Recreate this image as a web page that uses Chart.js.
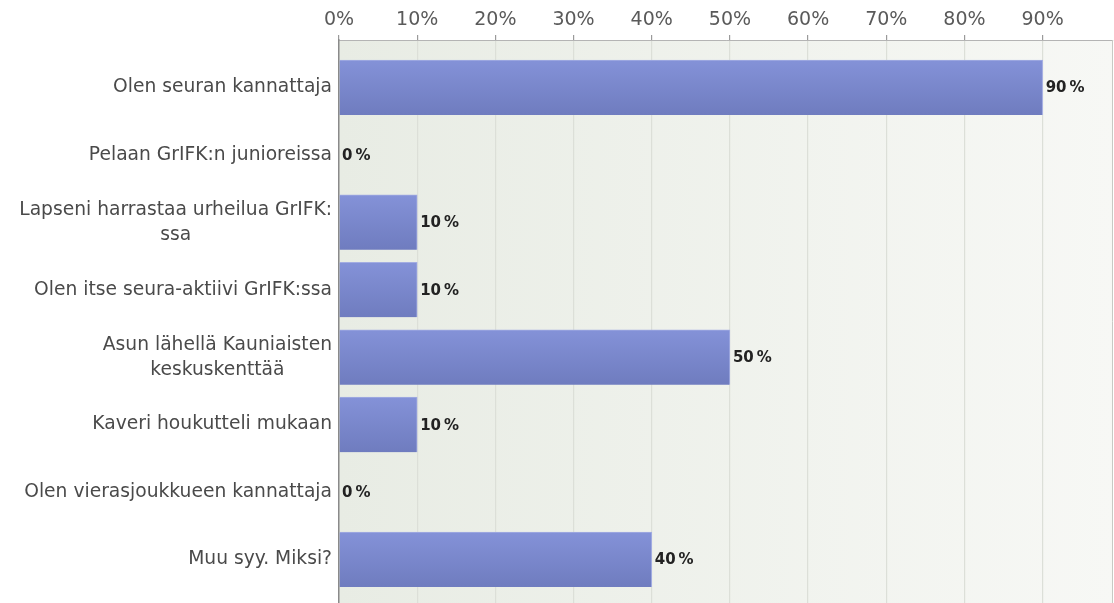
<!DOCTYPE html>
<html>
<head>
    <title>GrIFK</title>
    <style>
        body { margin: 0; background: #fff; }
        #wrap { width: 1114px; height: 603px; }
    </style>
</head>
<body>
    <div id="wrap">
        <canvas id="myChart"></canvas>
    </div>

    <script src="https://cdn.jsdelivr.net/npm/chart.js"></script>

    <script>
        const labels = [
            ['Olen seuran kannattaja'],
            ['Pelaan GrIFK:n junioreissa'],
            ['Lapseni harrastaa urheilua GrIFK:', 'ssa'],
            ['Olen itse seura-aktiivi GrIFK:ssa'],
            ['Asun lähellä Kauniaisten', 'keskuskenttää'],
            ['Kaveri houkutteli mukaan'],
            ['Olen vierasjoukkueen kannattaja'],
            ['Muu syy. Miksi?']
        ]
        const percents = [90, 0, 10, 10, 50, 10, 0, 40]
        const tickValues = [0, 10, 20, 30, 40, 50, 60, 70, 80, 90]

        const ctx = document.getElementById('myChart')

        // plot background + right border
        const backdrop = {
            id: 'backdrop',
            beforeDraw(chart) {
                const a = chart.chartArea
                const c = chart.ctx
                const g = c.createLinearGradient(a.left, 0, a.right, 0)
                g.addColorStop(0, '#e8ece4')
                g.addColorStop(1, '#f7f8f5')
                c.save()
                c.fillStyle = g
                c.fillRect(a.left, a.top, a.right - a.left, a.bottom - a.top)
                c.restore()
            },
            afterDraw(chart) {
                const a = chart.chartArea
                const c = chart.ctx
                c.save()
                c.strokeStyle = '#c8cac4'
                c.lineWidth = 1
                c.beginPath()
                c.moveTo(a.right - 0.5, a.top)
                c.lineTo(a.right - 0.5, a.bottom)
                c.stroke()
                c.restore()
            }
        }

        // category labels: block right aligned, lines centred inside it
        const catLabels = {
            id: 'catLabels',
            afterDraw(chart) {
                const c = chart.ctx
                const y = chart.scales.y
                const right = chart.chartArea.left - 7
                c.save()
                c.font = '18.7px "DejaVu Sans"'
                c.fillStyle = '#4a4a4a'
                c.textAlign = 'center'
                c.textBaseline = 'middle'
                labels.forEach((lines, i) => {
                    const w = Math.max(...lines.map(l => c.measureText(l).width))
                    const cy = y.getPixelForValue(i)
                    const lh = 25
                    const top = cy - (lines.length - 1) * lh / 2
                    lines.forEach((l, k) => c.fillText(l, right - w / 2, top + k * lh))
                })
                c.restore()
            }
        }

        const valueLabels = {
            id: 'valueLabels',
            afterDatasetsDraw(chart) {
                const c = chart.ctx
                const meta = chart.getDatasetMeta(0)
                c.save()
                c.font = 'bold 15px "DejaVu Sans"'
                c.fillStyle = '#222'
                c.textAlign = 'left'
                c.textBaseline = 'middle'
                meta.data.forEach((bar, i) => {
                    c.fillText(percents[i] + '\u2009%', bar.x + 3, bar.y + 1)
                })
                c.restore()
            }
        }

        new Chart(ctx, {
            type: 'bar',
            data: {
                datasets: [{
                    data: percents.map((v, i) => ({ x: v, y: i })),
                    backgroundColor: (context) => {
                        const chart = context.chart
                        if (!chart.chartArea) return '#7886cc'
                        const cy = chart.scales.y.getPixelForValue(context.dataIndex)
                        const g = chart.ctx.createLinearGradient(0, cy - 27.5, 0, cy + 27.5)
                        g.addColorStop(0, '#8492d8')
                        g.addColorStop(1, '#6f7cbf')
                        return g
                    },
                    borderColor: '#a3ade2',
                    borderWidth: { top: 1, right: 1, bottom: 0, left: 0 },
                    borderSkipped: false,
                    barThickness: 55
                }]
            },
            options: {
                indexAxis: 'y',
                responsive: true,
                maintainAspectRatio: false,
                animation: false,
                layout: { padding: { left: 0, right: 1, top: 0, bottom: 0 } },
                plugins: {
                    legend: { display: false },
                    tooltip: { enabled: false }
                },
                scales: {
                    x: {
                        type: 'linear',
                        position: 'top',
                        min: 0,
                        max: 99,
                        afterBuildTicks: (s) => { s.ticks = tickValues.map(v => ({ value: v })) },
                        afterFit: (s) => { s.height = 40 },
                        ticks: {
                            padding: 4,
                            color: '#5a5a5a',
                            font: { family: 'DejaVu Sans', size: 19 },
                            callback: (v) => v + '%'
                        },
                        grid: {
                            color: '#dcdfd8',
                            lineWidth: 1.2,
                            tickLength: 5,
                            tickColor: '#9a9a9a'
                        },
                        border: { display: true, color: '#b4b4b4', width: 1 }
                    },
                    y: {
                        type: 'linear',
                        reverse: true,
                        offset: false,
                        min: -0.704,
                        max: 7.645,
                        afterBuildTicks: (s) => { s.ticks = labels.map((_, i) => ({ value: i })) },
                        afterFit: (s) => { s.width = 339 },
                        ticks: { display: false },
                        grid: { display: false, offset: false },
                        border: { display: true, color: '#8a8a8a', width: 1.5 }
                    }
                }
            },
            plugins: [backdrop, catLabels, valueLabels]
        })
    </script>
</body>
</html>
